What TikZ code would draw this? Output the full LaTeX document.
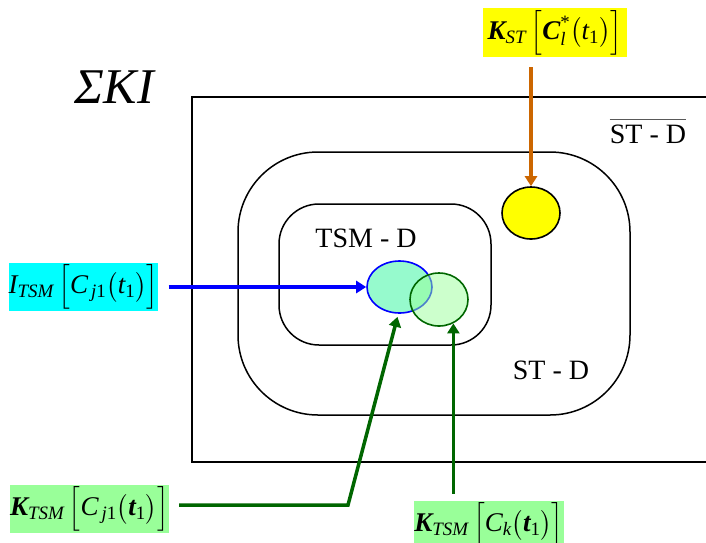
\RequirePackage{fix-cm}
\documentclass[tikz,border=0pt]{standalone}
\usepackage{amsmath}
\usepackage{fontspec}
\setmainfont{Liberation Serif}
\usetikzlibrary{arrows.meta,shapes.geometric}
\newcommand\vi[1]{\text{\itshape #1}}
\newcommand\vb[1]{\text{\bfseries\itshape #1}}
\definecolor{dgreen}{RGB}{0,102,0}
\definecolor{orng}{RGB}{204,102,0}
\definecolor{lgreen}{RGB}{153,255,153}
\definecolor{aqua}{RGB}{150,250,205}
\definecolor{cyanbox}{RGB}{0,255,255}
\definecolor{yelbox}{RGB}{255,255,0}
\definecolor{pureblue}{RGB}{0,0,255}
\tikzset{
  frame/.style={draw=black, line width=1.5pt},
  lbl/.style={inner sep=0pt, font=\fontsize{28}{34}\selectfont},
  conn/.style={line width=3.5pt, -{Triangle[length=10pt,width=12pt]}},
  setell/.style={ellipse, inner sep=0pt, line width=1.6pt},
  mbox/.style={inner sep=0pt, font=\fontsize{27}{32}\selectfont},
}
\begin{document}
\begin{tikzpicture}[x=1pt,y=-1pt]
\useasboundingbox (0,0) rectangle (706,542);
% regions
\draw[frame] (192,97) rectangle (730,462);
\draw[frame, rounded corners=80pt] (238,152) rectangle (630,415);
\draw[frame, rounded corners=40pt] (279,204) rectangle (491,345);
% titles
\node[lbl, font=\fontsize{50}{56}\selectfont\itshape] (ski) at (114,87) {ΣKI};
\node[lbl] (tsmd) at (366,238) {TSM - D};
\node[lbl] (std) at (551,370) {ST - D};
\node[lbl] (stdbar) at (648,134) {ST - D};
\draw[gray!70!black, line width=1.4pt] ([yshift=5pt]stdbar.north west) -- ([yshift=5pt]stdbar.north east);
% sets
\node[setell, draw=black, fill=yelbox, minimum width=58pt, minimum height=52pt] (ellY) at (531,213) {};
\node[setell, draw=pureblue, fill=aqua, minimum width=65pt, minimum height=52pt] (ellC) at (399.5,287) {};
\node[setell, draw=dgreen, fill=lgreen, fill opacity=0.5, minimum width=58pt, minimum height=53pt] (ellG) at (439,299.5) {};
% labels
\node[mbox, fill=yelbox, minimum width=144pt, minimum height=49pt] (ly) at (555,32.5)
  {$\vb{K}_{\vi{ST}}\,\Big[\vb{C}_{\vi{l}}^{\text{*}}\big(\vi{t}_{\text{1}}\big)\Big]$};
\node[mbox, fill=cyanbox, minimum width=147pt, minimum height=48pt] (lc) at (83.5,287)
  {$\vi{I}_{\vi{TSM}}\,\Big[\vi{C}_{\,\vi{j}\text{1}}\big(\vi{t}_{\text{1}}\big)\Big]$};
\node[mbox, fill=lgreen, minimum width=145pt, minimum height=44pt] (lg1) at (89.5,509)
  {$\vb{K}_{\vi{TSM}}\,\Big[\vi{C}_{\,\vi{j}\text{1}}\big(\vb{t}_{\text{1}}\big)\Big]$};
\node[mbox, fill=lgreen, minimum width=140pt, minimum height=42pt] (lg2) at (489,525)
  {$\vb{K}_{\vi{TSM}}\,\Big[\vi{C}_{\vi{k}}\big(\vb{t}_{\text{1}}\big)\Big]$};
% connectors
\draw[conn, orng, shorten <=10pt] (ly.south -| ellY.north) -- (ellY.north);
\draw[conn, pureblue, shorten <=10pt] (lc.east) -- (ellC.west);
\coordinate (bend) at (348,505);
\draw[conn, dgreen, shorten <=10pt] (lg1.east |- bend) -- (bend) -- ([xshift=-2pt,yshift=-3pt]ellC.south);
\draw[conn, dgreen, shorten <=7pt] (ellG.-59 |- lg2.north) -- (ellG.-59);
\end{tikzpicture}
\end{document}
